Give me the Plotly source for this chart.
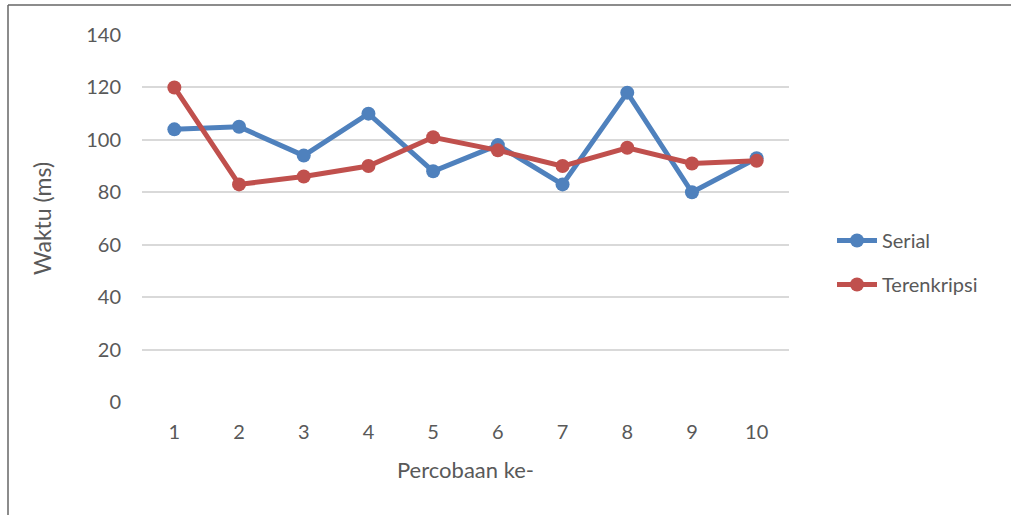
import plotly.graph_objects as go

# Trial number (category axis) and response time in ms
percobaan = ["1", "2", "3", "4", "5", "6", "7", "8", "9", "10"]
serial = [104, 105, 94, 110, 88, 98, 83, 118, 80, 93]
terenkripsi = [120, 83, 86, 90, 101, 96, 90, 97, 91, 92]

FONT = "Lato"
TEXT = "#595959"

fig = go.Figure()
fig.add_trace(go.Scatter(
    x=percobaan, y=serial, name="Serial", mode="lines+markers",
    line=dict(color="#4F81BD", width=5), marker=dict(size=14, color="#4F81BD"),
    legendgroup="a",
))
fig.add_trace(go.Scatter(
    x=percobaan, y=terenkripsi, name="Terenkripsi", mode="lines+markers",
    line=dict(color="#C0504D", width=5), marker=dict(size=14, color="#C0504D"),
    legendgroup="b",
))

W, H = 1011, 515
L, R, T, B = 142, 222, 35, 113
pw, ph = W - L - R, H - T - B

def px(x):
    return (x - L) / pw

def py(y):
    return (H - B - y) / ph

fig.update_layout(
    width=W, height=H,
    margin=dict(l=L, r=R, t=T, b=B),
    paper_bgcolor="white", plot_bgcolor="white",
    font=dict(family=FONT, color=TEXT, size=20),
    showlegend=True,
    legend=dict(
        x=px(832), y=py(221), xanchor="left", yanchor="top",
        font=dict(size=20, color=TEXT), tracegroupgap=15,
        itemwidth=40, bgcolor="rgba(0,0,0,0)",
    ),
    xaxis=dict(
        type="category", range=[-0.5, 9.5],
        showgrid=False, zeroline=False, showline=False,
        ticks="", ticklabelstandoff=16,
        tickfont=dict(size=20, color=TEXT),
        title=dict(text="Percobaan ke-", font=dict(size=22, color=TEXT), standoff=20),
    ),
    yaxis=dict(
        range=[0, 140], tickvals=[0, 20, 40, 60, 80, 100, 120, 140],
        showgrid=True, gridcolor="#D9D9D9", gridwidth=1.5,
        zeroline=False, showline=False, ticks="", ticklabelstandoff=20,
        tickfont=dict(size=20, color=TEXT),
        title=dict(text="Waktu (ms)", font=dict(size=23, color=TEXT), standoff=28),
    ),
    shapes=[
        dict(type="line", xref="paper", yref="paper",
             x0=px(8), x1=px(W + 5), y0=py(5), y1=py(5),
             line=dict(color="#666666", width=1.5)),
        dict(type="line", xref="paper", yref="paper",
             x0=px(8), x1=px(8), y0=py(5), y1=py(H + 5),
             line=dict(color="#666666", width=1.5)),
    ],
)

fig.write_html("out.html")
